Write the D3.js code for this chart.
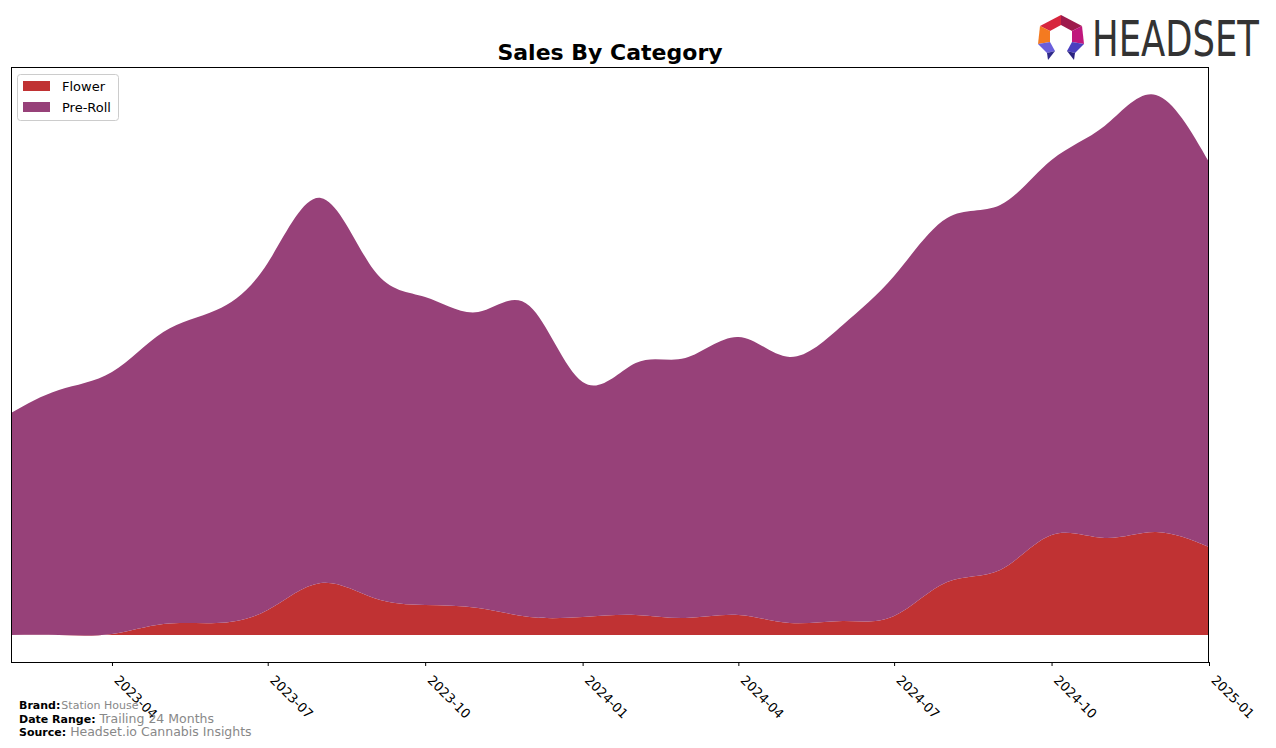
<!DOCTYPE html>
<html>
<head>
<meta charset="utf-8">
<script src="https://cdn.jsdelivr.net/npm/d3@7"></script>
<style>
  html, body { margin: 0; padding: 0; background: #fff; }
  svg { display: block; }
</style>
</head>
<body>
<svg id="chart" width="1276" height="748"></svg>
<script>
// ---- data ----
const months = ["2023-02","2023-03","2023-04","2023-05","2023-06","2023-07","2023-08","2023-09","2023-10","2023-11","2023-12",
  "2024-01","2024-02","2024-03","2024-04","2024-05","2024-06","2024-07","2024-08","2024-09","2024-10","2024-11","2024-12","2025-01"];
const flower = [0, 0, 1, 11, 12, 25, 52, 37, 30, 27, 18, 18, 20, 17, 20, 12, 14, 19, 53, 65, 100, 97, 103, 88];
const preRoll = [222, 245, 262, 292, 313, 347, 385, 328, 308, 296, 311, 235, 252, 260, 278, 266, 296, 340, 364, 365, 375, 412, 437, 385];
const categories = ["Flower", "Pre-Roll"];
const colors = ["#c03233", "#974179"];
const xTicks = ["2023-04","2023-07","2023-10","2024-01","2024-04","2024-07","2024-10","2025-01"];

// ---- setup ----
const svg = d3.select("#chart");
const parse = d3.timeParse("%Y-%m");
const L = 11, R = 1209, T = 67, B = 662;

const rows = months.map((m, i) => ({ date: parse(m), "Flower": flower[i], "Pre-Roll": preRoll[i] }));
const stack = d3.stack().keys(categories)(rows);

const x = d3.scaleTime().domain([parse(months[0]), parse(months[months.length - 1])]).range([L, R]);
const y = d3.scaleLinear().domain([-27, 568]).range([B, T]);

svg.append("defs").append("clipPath").attr("id", "clip")
  .append("rect").attr("x", L).attr("y", T).attr("width", R - L).attr("height", B - T);

const area = d3.area()
  .x(d => x(d.data.date))
  .y0(d => y(d[0]))
  .y1(d => y(d[1]))
  .curve(d3.curveNatural);

svg.append("g").attr("clip-path", "url(#clip)")
  .selectAll("path").data(stack).join("path")
  .attr("d", area)
  .attr("fill", (d, i) => colors[i]);

// frame
svg.append("rect").attr("x", L + 0.5).attr("y", T + 0.5).attr("width", R - L - 1).attr("height", B - T)
  .attr("fill", "none").attr("stroke", "#000").attr("stroke-width", 1);

// x axis
const xAxis = d3.axisBottom(x).tickValues(xTicks.map(parse)).tickSize(4).tickFormat(d3.timeFormat("%Y-%m"));
const gx = svg.append("g").attr("transform", `translate(0,${B})`).call(xAxis);
gx.select(".domain").remove();
gx.selectAll(".tick line").attr("stroke", "#000");
gx.selectAll(".tick text")
  .attr("font-family", "DejaVu Sans")
  .attr("font-size", 13)
  .attr("fill", "#000")
  .attr("text-anchor", "start")
  .attr("dy", null)
  .attr("y", 0)
  .attr("transform", "translate(1,19) rotate(45)");

// title
svg.append("text").attr("x", 610).attr("y", 60).attr("text-anchor", "middle")
  .attr("font-family", "DejaVu Sans").attr("font-weight", "bold").attr("font-size", 22)
  .text("Sales By Category");

// legend
const lg = svg.append("g");
lg.append("rect").attr("x", 17.5).attr("y", 74.5).attr("width", 101).attr("height", 46).attr("rx", 3)
  .attr("fill", "#fff").attr("stroke", "#ccc");
categories.forEach((c, i) => {
  lg.append("rect").attr("x", 23).attr("y", 81 + i * 21).attr("width", 27).attr("height", 10).attr("fill", colors[i]);
  lg.append("text").attr("x", 62).attr("y", 91 + i * 21).attr("font-family", "DejaVu Sans").attr("font-size", 13)
    .attr("fill", "#000").text(c);
});

// footer
const foot = [["Brand:", "Station House", 11], ["Date Range:", "Trailing 24 Months", 12.5], ["Source:", "Headset.io Cannabis Insights", 12.5]];
foot.forEach((f, i) => {
  const t = svg.append("text").attr("x", 19).attr("y", 709 + i * 13.5).attr("font-family", "DejaVu Sans");
  t.append("tspan").attr("font-weight", "bold").attr("font-size", 11).attr("fill", "#000").text(f[0]);
  t.append("tspan").attr("font-size", f[2]).attr("fill", "#888").attr("dx", i === 0 ? 1 : 4).text(f[1]);
});

// logo
const logo = svg.append("g");
const polys = [
  { p: [[1040,26],[1061,15],[1061,25],[1050,31]], c: "#d7263d" },
  { p: [[1061,15],[1082,26],[1072,31],[1061,25]], c: "#9e1a4c" },
  { p: [[1040,26],[1050,31],[1050,42],[1038,44]], c: "#f47a20" },
  { p: [[1082,26],[1084,44],[1072,42],[1072,31]], c: "#c0177c" },
  { p: [[1038,44],[1050,42],[1055,51],[1047,53]], c: "#6a5fdc" },
  { p: [[1047,53],[1055,51],[1048,60]], c: "#2f2a8a" },
  { p: [[1084,44],[1072,42],[1067,51],[1075,53]], c: "#4b3fbf" },
  { p: [[1075,53],[1067,51],[1074,60]], c: "#2a2380" }
];
logo.selectAll("polygon").data(polys).join("polygon")
  .attr("points", d => d.p.map(q => q.join(",")).join(" "))
  .attr("fill", d => d.c);
logo.append("text").attr("x", 1092).attr("y", 0)
  .attr("transform", "translate(0,56) scale(1,1.15)")
  .attr("font-family", "Liberation Sans Narrow, DejaVu Sans Condensed, Liberation Sans")
  .attr("font-size", 43).attr("fill", "#333")
  .attr("textLength", 167).attr("lengthAdjust", "spacingAndGlyphs")
  .text("HEADSET");
</script>
</body>
</html>
